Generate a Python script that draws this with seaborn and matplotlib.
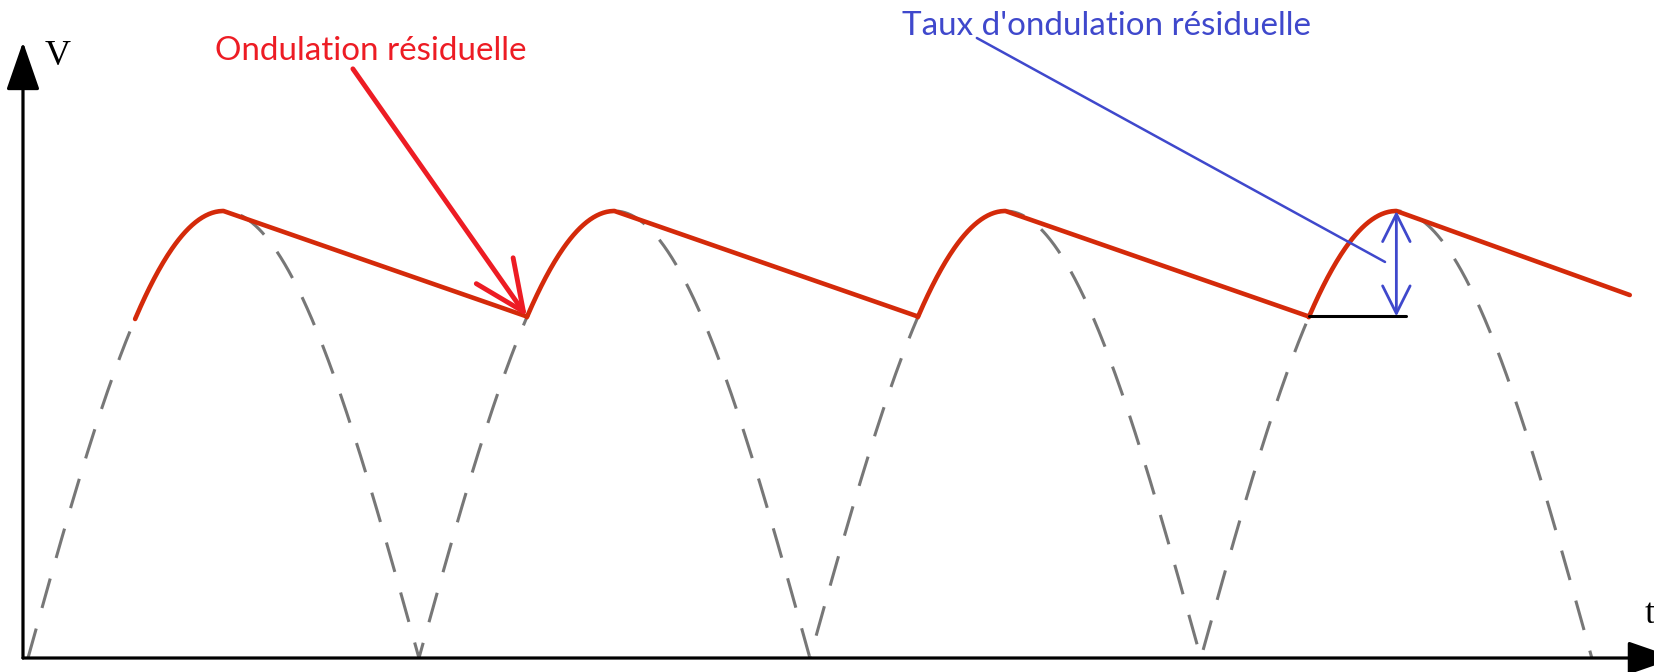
"""
ondulation.py
-------------
Redressement double alternance filtré : tension redressée (pointillés)
et tension filtrée avec son ondulation résiduelle.
"""

import numpy as np
import pandas as pd
import matplotlib
matplotlib.use("Agg")
import matplotlib.pyplot as plt
import seaborn as sns

# --- données (unités : demi-période / tension crête) ---
demi_periodes = [0, 1, 2, 3, 4]           # zéros de |sin|
crete_t = [0.5, 1.5, 2.5, 3.5]            # sommets
vallee_t = [0.274, 1.276, 2.276, 3.276]   # reprise de charge du condensateur
vallee_v = 0.764                          # niveau bas de l'ondulation
fin_t, fin_v = 4.097, 0.812               # fin de la dernière décharge
V_CRETE = 1.0

sns.set_theme(style="white")
plt.rcParams["font.family"] = ["Lato", "DejaVu Sans"]

ROUGE_COURBE = "#d42a0a"
ROUGE_TEXTE = "#ed1c24"
BLEU = "#3f48cc"
GRIS = "#777777"

# tension redressée |sin|
t_red = np.linspace(demi_periodes[0], demi_periodes[-1], 2000)
v_red = V_CRETE * np.abs(np.sin(np.pi * t_red))
df_red = pd.DataFrame({"t": t_red, "v": v_red})

# tension filtrée : suit le sinus de la vallée à la crête, puis décharge linéaire
morceaux_t, morceaux_v = [], []
fins = vallee_t[1:] + [fin_t]
for k in range(len(crete_t)):
    tt = np.linspace(vallee_t[k], crete_t[k], 80)
    morceaux_t.append(tt)
    morceaux_v.append(V_CRETE * np.abs(np.sin(np.pi * tt)))
    if k < len(crete_t) - 1:
        v_fin = vallee_v
    else:
        v_fin = fin_v
    morceaux_t.append(np.array([fins[k]]))
    morceaux_v.append(np.array([v_fin]))
df_filt = pd.DataFrame({"t": np.concatenate(morceaux_t), "v": np.concatenate(morceaux_v)})

fig = plt.figure(figsize=(16.54, 6.72), dpi=100)
ax = fig.add_axes([0, 0, 1, 1])
ax.set_xlim(-0.0716, 4.159)
ax.set_ylim(-0.0313, 1.472)
ax.axis("off")

sns.lineplot(data=df_red, x="t", y="v", ax=ax, color=GRIS, linewidth=2.2,
             linestyle=(0, (10, 7)), sort=False, estimator=None)
sns.lineplot(data=df_filt, x="t", y="v", ax=ax, color=ROUGE_COURBE, linewidth=3.3,
             sort=False, estimator=None)

# axes avec flèches
x0 = -0.0128
fleche_axe = dict(arrowstyle="-|>,head_length=0.75,head_width=0.26",
                  mutation_scale=40, color="black", lw=2.3, shrinkA=0, shrinkB=0)
ax.annotate("", xy=(x0, 1.378), xytext=(x0, 0), arrowprops=fleche_axe,
            annotation_clip=False)
ax.annotate("", xy=(4.215, 0), xytext=(x0, 0), arrowprops=fleche_axe,
            annotation_clip=False)
ax.text(0.0435, 1.327, "V", family="Liberation Serif", fontsize=26,
        ha="left", va="baseline", color="black")
ax.text(4.136, 0.078, "t", family="Liberation Serif", fontsize=26,
        ha="left", va="baseline", color="black")

# ondulation résiduelle
ax.text(0.478, 1.338, "Ondulation résiduelle", fontsize=23.9, color=ROUGE_TEXTE,
        ha="left", va="baseline")
ax.annotate("", xy=(vallee_t[1], vallee_v), xytext=(0.831, 1.318),
            arrowprops=dict(arrowstyle="->,head_length=0.8,head_width=0.36",
                            mutation_scale=45, color=ROUGE_TEXTE, lw=3.5,
                            shrinkA=0, shrinkB=0))

# taux d'ondulation
ax.text(2.235, 1.394, "Taux d'ondulation résiduelle", fontsize=23.9, color=BLEU,
        ha="left", va="baseline")
ax.plot([2.427, 3.471], [1.387, 0.886], color=BLEU, lw=1.8)
ax.annotate("", xy=(crete_t[-1], V_CRETE), xytext=(crete_t[-1], vallee_v),
            arrowprops=dict(arrowstyle="<->,head_length=0.9,head_width=0.45",
                            mutation_scale=22, color=BLEU, lw=2.0,
                            shrinkA=0, shrinkB=0))
ax.plot([vallee_t[-1], 3.525], [vallee_v, vallee_v], color="black", lw=2.2)

fig.savefig("out.png", dpi=100)
